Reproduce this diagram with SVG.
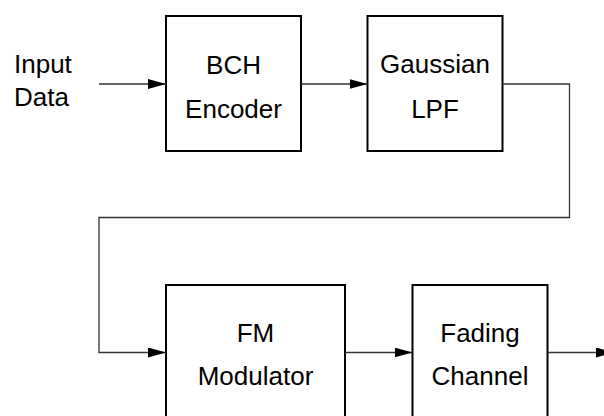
<svg xmlns="http://www.w3.org/2000/svg" width="604" height="416" viewBox="0 0 604 416">
<style>
.box{fill:#fff;stroke:#000;stroke-width:2}
.t{font-family:"Liberation Sans",Arial,sans-serif;font-size:26px;fill:#000;text-anchor:middle}
.c{fill:none;stroke:#333;stroke-width:1.3}
</style>
<defs>
<marker id="ah" markerWidth="18" markerHeight="10" refX="18" refY="5" orient="auto" markerUnits="userSpaceOnUse">
<path d="M0,0 L18,5 L0,10 Z" fill="#000"/>
</marker>
</defs>
<rect width="604" height="416" fill="#fff"/>
<text class="t" x="14" y="73" style="text-anchor:start">Input</text>
<text class="t" x="14" y="106" style="text-anchor:start">Data</text>
<g id="bch">
<rect class="box" x="166" y="16" width="135" height="135"/>
<text class="t" x="233.5" y="74">BCH</text>
<text class="t" x="233.5" y="118">Encoder</text>
</g>
<g id="gauss">
<rect class="box" x="367.5" y="16" width="135" height="135"/>
<text class="t" x="435" y="73">Gaussian</text>
<text class="t" x="435" y="118">LPF</text>
</g>
<g id="fm">
<rect class="box" x="166" y="285" width="179" height="150"/>
<text class="t" x="255.5" y="342">FM</text>
<text class="t" x="255.5" y="385">Modulator</text>
</g>
<g id="fading">
<rect class="box" x="412.5" y="285" width="135" height="150"/>
<text class="t" x="480" y="342">Fading</text>
<text class="t" x="480" y="385">Channel</text>
</g>
<g id="connectors">
<path class="c" d="M99,84 H166" marker-end="url(#ah)"/>
<path class="c" d="M301,84 H367.5" marker-end="url(#ah)"/>
<path class="c" d="M502.5,84 H569.5 V217.5 H99 V352.5 H166" marker-end="url(#ah)"/>
<path class="c" d="M345,352.5 H412.5" marker-end="url(#ah)"/>
<path class="c" d="M547.5,352.5 H614" marker-end="url(#ah)"/>
</g>
</svg>
